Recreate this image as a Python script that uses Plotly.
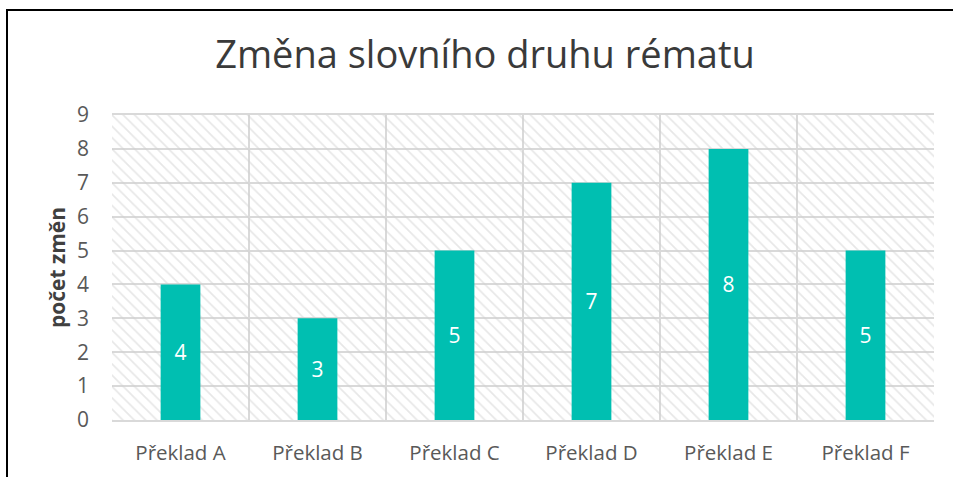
import plotly.graph_objects as go

categories = ["Překlad A", "Překlad B", "Překlad C", "Překlad D", "Překlad E", "Překlad F"]
values = [4, 3, 5, 7, 8, 5]
y_ticks = [0, 1, 2, 3, 4, 5, 6, 7, 8, 9]
y_max = 9
title_text = "Změna slovního druhu rématu"
y_title = "počet změn"

W, H = 953, 477
L, R, T, B = 112, 934, 115, 420

FONT = "Open Sans"
GRID = "#D9D9D9"
BAR = "#00BFB1"

fig = go.Figure()

# hatched plot-area background (spans full category width up to axis max)
fig.add_trace(go.Bar(
    x=categories, y=[y_max] * len(categories), width=1,
    marker=dict(color="rgba(0,0,0,0)", line=dict(width=0),
                pattern=dict(shape="\\", fgcolor="#D0D0D0", size=8, solidity=0.22,
                             fillmode="overlay")),
    hoverinfo="skip", showlegend=False,
))

fig.add_trace(go.Bar(
    x=categories, y=values, width=0.29,
    marker=dict(color=BAR, line=dict(width=0)),
    text=[str(v) for v in values], textposition="inside", insidetextanchor="middle",
    textfont=dict(family=FONT, size=21, color="white"),
    hoverinfo="skip", showlegend=False,
))

def px(x):
    return (x - L) / (R - L)

def py(y):
    return (B - y) / (B - T)

fig.update_layout(
    width=W, height=H,
    margin=dict(l=L, r=W - R, t=T, b=H - B, autoexpand=False),
    paper_bgcolor="white", plot_bgcolor="white",
    barmode="overlay",
    title=dict(text=title_text, x=485 / W, xanchor="center", y=1 - 55 / H, yanchor="middle",
               xref="container", yref="container", automargin=False,
               font=dict(family=FONT, size=38, color="#3A3A3A")),
    xaxis=dict(type="category", tickson="boundaries", showgrid=True, gridcolor=GRID, gridwidth=2,
               showline=True, linecolor=GRID, linewidth=2, mirror=True, ticks="",
               tickfont=dict(family=FONT, size=20.5, color="#595959"),
               ticklabelstandoff=13, range=[-0.5, 5.5], fixedrange=True, automargin=False),
    yaxis=dict(range=[0, y_max], tickvals=y_ticks, showgrid=True, gridcolor=GRID, gridwidth=2,
               zeroline=False, showline=False, ticks="",
               tickfont=dict(family=FONT, size=21, color="#595959"),
               ticklabelstandoff=22, automargin=False,
               title=dict(text="<b>" + y_title + "</b>", standoff=5,
                          font=dict(family=FONT, size=21, color="#404040")),
               fixedrange=True),
    shapes=[
        dict(type="line", xref="paper", yref="paper", x0=px(7), x1=px(7), y0=py(10), y1=py(H + 5),
             line=dict(color="black", width=2)),
        dict(type="line", xref="paper", yref="paper", x0=px(6), x1=px(W + 5), y0=py(10), y1=py(10),
             line=dict(color="black", width=2)),
    ],
)

fig.write_html("out.html", config={"displayModeBar": False},
               post_script="document.body.style.margin='0px';")
